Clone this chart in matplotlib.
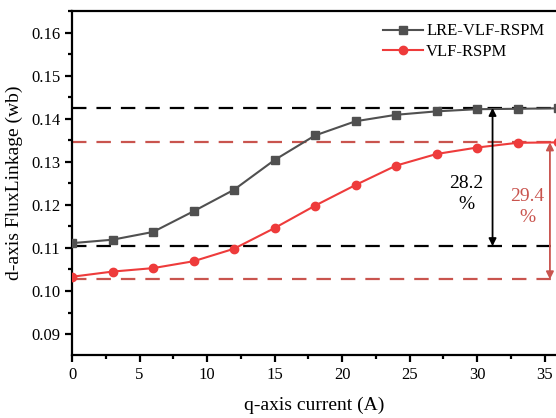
import matplotlib
matplotlib.use("Agg")
import matplotlib.pyplot as plt
from matplotlib.ticker import MultipleLocator

plt.rcParams['font.family'] = ['Liberation Serif', 'DejaVu Serif']

# q-axis current (A)
current = [0, 3, 6, 9, 12, 15, 18, 21, 24, 27, 30, 33, 36]
# d-axis flux linkage (Wb)
lre_vlf = [0.1111, 0.1119, 0.1137, 0.1185, 0.1235, 0.1304, 0.1361, 0.1394,
           0.1409, 0.1417, 0.1422, 0.1423, 0.1424]
vlf = [0.1033, 0.1045, 0.1053, 0.1069, 0.1098, 0.1146, 0.1198, 0.1246,
       0.1291, 0.1318, 0.1333, 0.1344, 0.1345]

# reference levels (max / min) for each machine
lre_levels = [0.1425, 0.1104]
vlf_levels = [0.1345, 0.1027]
lre_label = "28.2\n%"
vlf_label = "29.4\n%"

grey = "#505050"
red = "#ee3b3b"
muted_red = "#c9544e"

fig = plt.figure(figsize=(5.56, 4.18), dpi=100)
ax = fig.add_axes([0.1295, 0.1514, 0.8705, 0.8223])

for lvl in lre_levels:
    ax.axhline(lvl, color="black", lw=1.6, dashes=(6.5, 4.5), zorder=1)
for lvl in vlf_levels:
    ax.axhline(lvl, color=muted_red, lw=1.6, dashes=(6.5, 4.5), zorder=1)

ax.plot(current, lre_vlf, color=grey, lw=1.5, marker="s", ms=5.5,
        label="LRE-VLF-RSPM", zorder=3)
ax.plot(current, vlf, color=red, lw=1.5, marker="o", ms=6,
        label="VLF-RSPM", zorder=3)

# double-headed arrows spanning each flux-linkage range
ax.annotate("", xy=(31.15, lre_levels[0]), xytext=(31.15, lre_levels[1]),
            arrowprops=dict(arrowstyle="<|-|>", color="black", lw=1.3,
                            mutation_scale=11, shrinkA=0, shrinkB=0))
ax.annotate("", xy=(35.4, vlf_levels[0]), xytext=(35.4, vlf_levels[1]),
            arrowprops=dict(arrowstyle="<|-|>", color=muted_red, lw=1.3,
                            mutation_scale=11, shrinkA=0, shrinkB=0))
ax.text(29.2, 0.1225, lre_label, ha="center", va="center", fontsize=14,
        color="black", linespacing=1.25)
ax.text(33.75, 0.1195, vlf_label, ha="center", va="center", fontsize=14,
        color=muted_red, linespacing=1.25)

ax.set_xlim(0, 35.85)
ax.set_ylim(0.0852, 0.165)
ax.xaxis.set_major_locator(MultipleLocator(5))
ax.xaxis.set_minor_locator(MultipleLocator(2.5))
ax.yaxis.set_major_locator(MultipleLocator(0.01))
ax.yaxis.set_minor_locator(MultipleLocator(0.005))
ax.yaxis.set_major_formatter(matplotlib.ticker.FormatStrFormatter("%.2f"))

for side in ("left", "bottom", "top"):
    ax.spines[side].set_linewidth(1.6)
ax.spines["right"].set_visible(False)
ax.tick_params(which="major", direction="out", length=5, width=1.6,
               labelsize=12, top=False, right=False)
ax.tick_params(which="minor", direction="out", length=3, width=1.6,
               top=False, right=False)

ax.set_xlabel("q-axis current (A)", fontsize=14, labelpad=10)
ax.set_ylabel("d-axis FluxLinkage (wb)", fontsize=14, labelpad=6)

ax.legend(loc="upper right", bbox_to_anchor=(1.0, 0.998), frameon=False,
          fontsize=12, handlelength=2.4, handletextpad=0.2, labelspacing=0.25,
          borderaxespad=0.3)

fig.savefig("out.png", dpi=100)
